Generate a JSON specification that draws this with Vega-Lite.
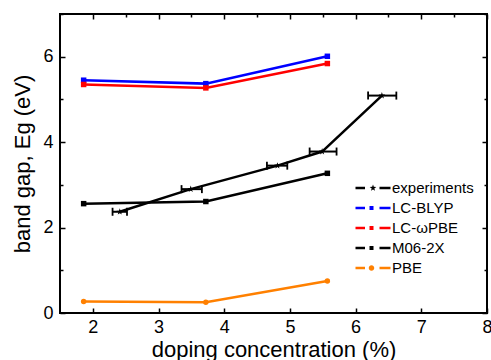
{
  "$schema": "https://vega.github.io/schema/vega-lite/v6.json",
  "width": 427,
  "height": 299,
  "autosize": {"type": "none"},
  "padding": {"left": 60, "top": 14, "right": 4, "bottom": 47},
  "background": "white",
  "config": {
    "view": {"stroke": "black", "strokeWidth": 2},
    "font": "Liberation Sans",
    "axis": {
      "domain": false, "grid": false,
      "labelFont": "Liberation Sans", "labelFontSize": 18, "labelColor": "black",
      "tickColor": "black", "tickWidth": 1.5,
      "labelFlush": false, "labelOverlap": false,
      "titleFont": "Liberation Sans", "titleFontSize": 22, "titleFontWeight": "normal", "titleColor": "black"
    }
  },
  "data": {"values": [
    {"series": "experiments", "x": 2.41, "y": 2.37, "xlo": 2.30, "xhi": 2.52},
    {"series": "experiments", "x": 3.49, "y": 2.90, "xlo": 3.35, "xhi": 3.66},
    {"series": "experiments", "x": 4.81, "y": 3.45, "xlo": 4.65, "xhi": 4.96},
    {"series": "experiments", "x": 5.49, "y": 3.78, "xlo": 5.30, "xhi": 5.71},
    {"series": "experiments", "x": 6.40, "y": 5.09, "xlo": 6.19, "xhi": 6.62},
    {"series": "LC-BLYP", "x": 1.86, "y": 5.45},
    {"series": "LC-BLYP", "x": 3.72, "y": 5.37},
    {"series": "LC-BLYP", "x": 5.57, "y": 6.01},
    {"series": "LC-ωPBE", "x": 1.86, "y": 5.35},
    {"series": "LC-ωPBE", "x": 3.72, "y": 5.27},
    {"series": "LC-ωPBE", "x": 5.57, "y": 5.84},
    {"series": "M06-2X", "x": 1.86, "y": 2.56},
    {"series": "M06-2X", "x": 3.72, "y": 2.61},
    {"series": "M06-2X", "x": 5.57, "y": 3.27},
    {"series": "PBE", "x": 1.86, "y": 0.27},
    {"series": "PBE", "x": 3.72, "y": 0.25},
    {"series": "PBE", "x": 5.57, "y": 0.75}
  ]},
  "layer": [
    {
      "mark": {"type": "line", "strokeWidth": 2.5},
      "encoding": {
        "x": {"field": "x", "type": "quantitative",
          "scale": {"domain": [1.5, 8], "nice": false, "zero": false},
          "axis": {"orient": "bottom", "values": [2, 2.5, 3, 3.5, 4, 4.5, 5, 5.5, 6, 6.5, 7, 7.5, 8],
            "tickSize": {"condition": {"test": "datum.value % 1 == 0", "value": -5}, "value": -3},
            "format": "d",
            "labelExpr": "datum.value % 1 == 0 ? datum.label : ''",
            "labelPadding": 10,
            "title": "doping concentration (%)", "titleX": 213.5, "titleY": 43.5,
            "titleBaseline": "alphabetic", "titleAlign": "center", "titleAngle": 0}},
        "y": {"field": "y", "type": "quantitative",
          "scale": {"domain": [0, 7], "nice": false, "zero": false},
          "axis": {"orient": "left", "values": [0, 1, 2, 3, 4, 5, 6, 7],
            "tickSize": {"condition": {"test": "datum.value % 2 == 0", "value": -5}, "value": -3},
            "format": "d",
            "labelExpr": "datum.value % 2 == 0 ? datum.label : ''",
            "labelPadding": 12,
            "title": "band gap, Eg (eV)", "titleX": -31, "titleY": 149.5,
            "titleAngle": -90, "titleBaseline": "alphabetic", "titleAlign": "center"}},
        "color": {"field": "series", "type": "nominal",
          "scale": {"domain": ["experiments", "LC-BLYP", "LC-ωPBE", "M06-2X", "PBE"],
                    "range": ["#000000", "#0000FF", "#FF0000", "#000000", "#FF8000"]},
          "legend": null}
      }
    },
    {
      "transform": [{"filter": "datum.series == 'experiments'"}],
      "mark": {"type": "rule", "strokeWidth": 2, "color": "black"},
      "encoding": {
        "x": {"field": "xlo", "type": "quantitative",
          "axis": {"orient": "top", "values": [2, 2.5, 3, 3.5, 4, 4.5, 5, 5.5, 6, 6.5, 7, 7.5, 8],
            "tickSize": {"condition": {"test": "datum.value % 1 == 0", "value": -5}, "value": -3},
            "labels": false, "title": null}},
        "x2": {"field": "xhi"},
        "y": {"field": "y", "type": "quantitative",
          "axis": {"orient": "right", "values": [0, 1, 2, 3, 4, 5, 6, 7],
            "tickSize": {"condition": {"test": "datum.value % 2 == 0", "value": -5}, "value": -3},
            "labels": false, "title": null}}
      }
    },
    {
      "transform": [{"filter": "datum.series == 'experiments'"}],
      "mark": {"type": "tick", "orient": "vertical", "size": 8, "thickness": 1.8, "color": "black", "opacity": 1},
      "encoding": {
        "x": {"field": "xlo", "type": "quantitative", "axis": null},
        "y": {"field": "y", "type": "quantitative", "axis": null}
      }
    },
    {
      "transform": [{"filter": "datum.series == 'experiments'"}],
      "mark": {"type": "tick", "orient": "vertical", "size": 8, "thickness": 1.8, "color": "black", "opacity": 1},
      "encoding": {
        "x": {"field": "xhi", "type": "quantitative", "axis": null},
        "y": {"field": "y", "type": "quantitative", "axis": null}
      }
    },
    {
      "mark": {"type": "point", "filled": true, "opacity": 1, "size": 30, "strokeWidth": 0},
      "encoding": {
        "x": {"field": "x", "type": "quantitative", "axis": null},
        "y": {"field": "y", "type": "quantitative", "axis": null},
        "shape": {"field": "series", "type": "nominal",
          "scale": {"domain": ["experiments", "LC-BLYP", "LC-ωPBE", "M06-2X", "PBE"],
                    "range": ["M0,-1.28L0.294,-0.405L1.217,-0.396L0.476,0.155L0.752,1.036L0,0.5L-0.752,1.036L-0.476,0.155L-1.217,-0.396L-0.294,-0.405Z", "square", "square", "square", "circle"]},
          "legend": null},
        "color": {"field": "series", "type": "nominal", "legend": null}
      }
    },
    {
      "mark": {"type": "point", "filled": true, "opacity": 0, "size": 100, "strokeWidth": 0},
      "encoding": {
        "x": {"field": "x", "type": "quantitative", "axis": null},
        "y": {"field": "y", "type": "quantitative", "axis": null},
        "shape": {"field": "series", "type": "nominal",
          "scale": {"domain": ["experiments", "LC-BLYP", "LC-ωPBE", "M06-2X", "PBE"],
                    "range": [
                      "M-3.5,-0.25H-1.6V0.25H-3.5Z M1.3,-0.25H3.5V0.25H1.3Z M0,-0.7L0.165,-0.227L0.666,-0.216L0.266,0.087L0.412,0.566L0,0.28L-0.412,0.566L-0.266,0.087L-0.666,-0.216L-0.165,-0.227Z",
                      "M-3.5,-0.25H-1.6V0.25H-3.5Z M1.3,-0.25H3.5V0.25H1.3Z M-0.7,-0.4H0.1V0.4H-0.7Z",
                      "M-3.5,-0.25H-1.6V0.25H-3.5Z M1.3,-0.25H3.5V0.25H1.3Z M-0.7,-0.4H0.1V0.4H-0.7Z",
                      "M-3.5,-0.25H-1.6V0.25H-3.5Z M1.3,-0.25H3.5V0.25H1.3Z M-0.7,-0.4H0.1V0.4H-0.7Z",
                      "M-3.5,-0.25H-1.6V0.25H-3.5Z M1.3,-0.25H3.5V0.25H1.3Z M0.25,0A0.55,0.55 0 1,1 -0.85,0A0.55,0.55 0 1,1 0.25,0Z"
                    ]},
          "legend": {
            "orient": "none", "legendX": 305.5, "legendY": 166.5, "title": null, "padding": 0,
            "labelFont": "Liberation Sans", "labelFontSize": 15, "labelColor": "black",
            "labelOffset": 11.5, "rowPadding": 4, "symbolSize": 100, "symbolStrokeWidth": 0,
            "symbolOpacity": 1}},
        "color": {"field": "series", "type": "nominal",
          "legend": {
            "orient": "none", "legendX": 305.5, "legendY": 166.5, "title": null, "padding": 0,
            "labelFont": "Liberation Sans", "labelFontSize": 15, "labelColor": "black",
            "labelOffset": 11.5, "rowPadding": 4, "symbolSize": 100, "symbolStrokeWidth": 0,
            "symbolOpacity": 1}}
      }
    }
  ],
  "resolve": {
    "axis": {"x": "independent", "y": "independent"},
    "scale": {"shape": "independent"},
    "legend": {"color": "independent", "shape": "independent"}
  }
}
